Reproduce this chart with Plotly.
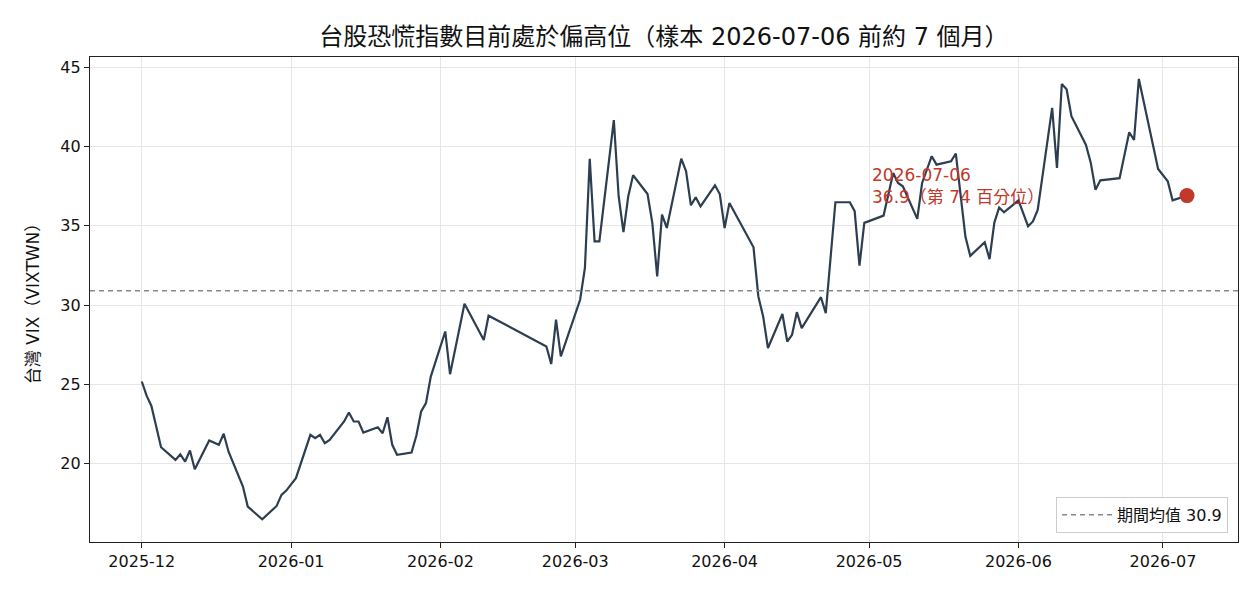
import plotly.graph_objects as go

# ---- data ----
dates = [
    "2025-12-01", "2025-12-02", "2025-12-03", "2025-12-05", "2025-12-08", "2025-12-09",
    "2025-12-10", "2025-12-11", "2025-12-12", "2025-12-15", "2025-12-17", "2025-12-18",
    "2025-12-19", "2025-12-22", "2025-12-23", "2025-12-26", "2025-12-29", "2025-12-30",
    "2025-12-31", "2026-01-02", "2026-01-05", "2026-01-06", "2026-01-07", "2026-01-08",
    "2026-01-09", "2026-01-12", "2026-01-13", "2026-01-14", "2026-01-15", "2026-01-16",
    "2026-01-19", "2026-01-20", "2026-01-21", "2026-01-22", "2026-01-23", "2026-01-26",
    "2026-01-27", "2026-01-28", "2026-01-29", "2026-01-30", "2026-02-02", "2026-02-03",
    "2026-02-06", "2026-02-10", "2026-02-11", "2026-02-23", "2026-02-24", "2026-02-25",
    "2026-02-26", "2026-03-02", "2026-03-03", "2026-03-04", "2026-03-05", "2026-03-06",
    "2026-03-09", "2026-03-10", "2026-03-11", "2026-03-12", "2026-03-13", "2026-03-16",
    "2026-03-17", "2026-03-18", "2026-03-19", "2026-03-20", "2026-03-23", "2026-03-24",
    "2026-03-25", "2026-03-26", "2026-03-27", "2026-03-30", "2026-03-31", "2026-04-01",
    "2026-04-02", "2026-04-07", "2026-04-08", "2026-04-09", "2026-04-10", "2026-04-13",
    "2026-04-14", "2026-04-15", "2026-04-16", "2026-04-17", "2026-04-21", "2026-04-22",
    "2026-04-24", "2026-04-27", "2026-04-28", "2026-04-29", "2026-04-30", "2026-05-04",
    "2026-05-06", "2026-05-07", "2026-05-08", "2026-05-11", "2026-05-12", "2026-05-14",
    "2026-05-15", "2026-05-18", "2026-05-19", "2026-05-21", "2026-05-22", "2026-05-25",
    "2026-05-26", "2026-05-27", "2026-05-28", "2026-05-29", "2026-06-01", "2026-06-03",
    "2026-06-04", "2026-06-05", "2026-06-08", "2026-06-09", "2026-06-10", "2026-06-11",
    "2026-06-12", "2026-06-15", "2026-06-16", "2026-06-17", "2026-06-18", "2026-06-22",
    "2026-06-24", "2026-06-25", "2026-06-26", "2026-06-30", "2026-07-02", "2026-07-03",
    "2026-07-06",
]
vix = [
    25.19, 24.30, 23.65, 21.05, 20.25, 20.60,
    20.15, 20.84, 19.66, 21.47, 21.20, 21.90,
    20.78, 18.57, 17.31, 16.51, 17.35, 18.05,
    18.32, 19.10, 21.83, 21.62, 21.83, 21.30,
    21.51, 22.67, 23.24, 22.67, 22.67, 21.97,
    22.31, 21.93, 22.94, 21.20, 20.57, 20.71,
    21.77, 23.30, 23.83, 25.50, 28.34, 25.65,
    30.09, 27.80, 29.33, 27.40, 26.29, 29.08,
    26.77, 30.34, 32.34, 39.21, 34.02, 34.02,
    41.66, 36.86, 34.60, 36.86, 38.18, 37.00,
    35.17, 31.81, 35.70, 34.86, 39.23, 38.43,
    36.29, 36.79, 36.22, 37.55, 37.00, 34.86,
    36.44, 33.64, 30.55, 29.29, 27.30, 29.44,
    27.71, 28.13, 29.56, 28.55, 30.50, 29.50,
    36.48, 36.48, 35.92, 32.49, 35.18, 35.64,
    38.33, 37.70, 37.49, 35.43, 37.70, 39.38,
    38.85, 39.06, 39.55, 34.30, 33.10, 33.96,
    32.90, 35.20, 36.15, 35.85, 36.60, 34.97,
    35.27, 36.00, 42.43, 38.64, 43.93, 43.60,
    41.90, 40.11, 38.99, 37.27, 37.86, 38.00,
    40.89, 40.40, 44.25, 38.58, 37.80, 36.60,
    36.90,
]
mean_value = 30.9
current_percentile = 74
y_ticks = [20, 25, 30, 35, 40, 45]
x_range = ["2025-11-20 06:00", "2026-07-16 14:00"]
y_range = [15.08, 45.63]

title_text = "台股恐慌指數目前處於偏高位（樣本 2026-07-06 前約 7 個月）"
y_title = "台灣 VIX（VIXTWN）"
mean_label = f"期間均值 {mean_value:.1f}"
note_text = f"{dates[-1]}<br>{vix[-1]:.1f}（第 {current_percentile} 百分位）"

LINE = "#2c3e50"
RED = "#c0392b"
FONT = "DejaVu Sans, Noto Sans CJK TC, sans-serif"

fig = go.Figure()
fig.add_trace(go.Scatter(
    x=dates, y=vix, mode="lines",
    line=dict(color=LINE, width=2.2), showlegend=False, hoverinfo="skip",
))
fig.add_trace(go.Scatter(
    x=[None], y=[None], mode="lines", name=mean_label,
    line=dict(color="#888888", width=1.5, dash="5px,4px"),
))
fig.add_trace(go.Scatter(
    x=[dates[-1]], y=[vix[-1]], mode="markers",
    marker=dict(color=RED, size=15), showlegend=False,
))

fig.add_shape(type="line", xref="paper", x0=0, x1=1, yref="y",
              y0=mean_value, y1=mean_value,
              line=dict(color="#888888", width=1.5, dash="5px,4px"), layer="above")

fig.add_annotation(
    x=dates[-1], y=vix[-1], xref="x", yref="y", text=note_text,
    showarrow=False, xanchor="left", yanchor="middle", align="left",
    xshift=-317, yshift=10, font=dict(family=FONT, size=17, color=RED),
)

fig.update_layout(
    width=1260, height=600,
    margin=dict(l=90, r=22, t=57, b=58),
    paper_bgcolor="white", plot_bgcolor="white",
    font=dict(family=FONT, size=16, color="#111111"),
    title=dict(text=title_text, x=0.5, xref="paper", xanchor="center",
               y=1 - 37 / 600, yref="container", yanchor="middle",
               font=dict(family=FONT, size=24, color="#111111")),
    legend=dict(x=0.9913, xanchor="right", y=0.019, yanchor="bottom",
                bgcolor="white", bordercolor="#cccccc", borderwidth=1,
                itemwidth=50,
                font=dict(family=FONT, size=16, color="#111111")),
    xaxis=dict(range=x_range, type="date", tickformat="%Y-%m", dtick="M1",
               tick0="2025-12-01", showgrid=True, gridcolor="#e6e6e6", gridwidth=1,
               showline=True, linecolor="#222222", linewidth=1.2, mirror=True,
               ticks="outside", ticklen=5, tickcolor="#222222", zeroline=False,
               tickfont=dict(size=16)),
    yaxis=dict(range=y_range, tickvals=y_ticks, showgrid=True, gridcolor="#e6e6e6",
               gridwidth=1, showline=True, linecolor="#222222", linewidth=1.2,
               mirror=True, ticks="outside", ticklen=5, tickcolor="#222222",
               zeroline=False, tickfont=dict(size=16),
               title=dict(text=y_title, standoff=16, font=dict(size=17))),
)

fig.write_html("out.html")
